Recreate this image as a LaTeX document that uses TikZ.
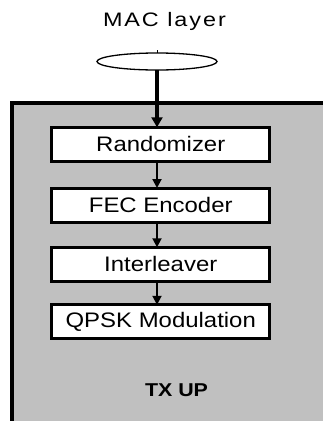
\documentclass[tikz,border=0pt]{standalone}
\usepackage{fontspec}
\setmainfont{Liberation Sans}
\usetikzlibrary{arrows.meta,shapes.geometric}
\definecolor{panel}{RGB}{192,192,192}

\begin{document}
\begin{tikzpicture}[x=1pt,y=-1pt,
  every node/.style={inner sep=0pt, outer sep=0pt},
  block/.style={draw=black, line width=3pt, fill=white, minimum width=218pt, minimum height=34pt,
    font=\fontsize{21}{25}\selectfont\addfontfeature{FakeStretch=1.14}},
  flow/.style={-{Triangle[length=9pt,width=9pt]}, line width=2pt}]
\useasboundingbox (0,0) rectangle (323,421);
% transmitter panel, only left and top edges show
\fill[panel] (12,103) rectangle (323,421);
\draw[line width=3.5pt] (12,421) -- (12,103) -- (323,103);
% service access point
\node[draw, ellipse, line width=1.3pt, minimum width=120pt, minimum height=17pt] (sap) at (157,61.5) {};
\draw[line width=1pt] (sap.north) -- ++(0,-3);
\node[anchor=base west, font=\fontsize{19.5}{22}\selectfont\addfontfeature{FakeStretch=1.2,LetterSpace=10}] (mac) at (103,26) {MAC layer};
% processing chain
\node[block] (rand) at (160.75,144.25) {Randomizer};
\node[block] (fec) at (160.75,205) {FEC Encoder};
\node[block] (intl) at (160.75,264.25) {Interleaver};
\node[block] (qpsk) at (160.75,321.75) {QPSK Modulation};
\draw[flow, line width=3.5pt, -{Triangle[length=10pt,width=11pt]}] (sap.south) -- (rand.north -| sap);
\draw[flow] (rand.south -| sap) -- (fec.north -| sap);
\draw[flow] (fec.south -| sap) -- (intl.north -| sap);
\draw[flow] (intl.south -| sap) -- (qpsk.north -| sap);
\node[anchor=base west, font=\fontsize{18.6}{22}\selectfont\bfseries\addfontfeature{FakeStretch=1.15}] (tx) at (145,396) {TX UP};
\end{tikzpicture}
\end{document}
